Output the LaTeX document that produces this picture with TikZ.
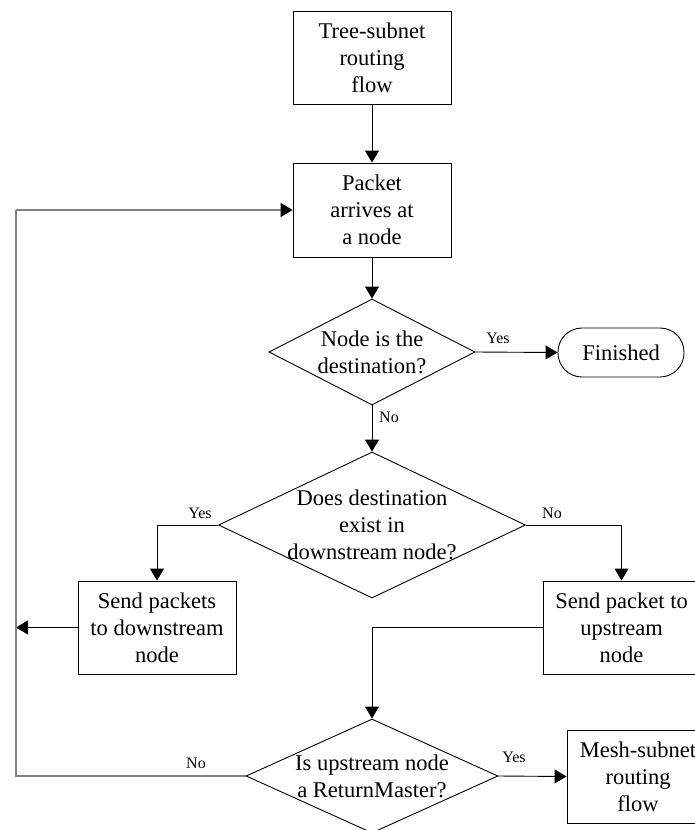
\documentclass[tikz,border=0pt]{standalone}
\usepackage{fontspec}
\setmainfont{Liberation Serif}
\usetikzlibrary{shapes.geometric,arrows.meta}
\begin{document}
\begin{tikzpicture}[x=1pt,y=-1pt,
  every node/.style={font=\fontsize{22.5}{27}\selectfont, align=center, inner sep=0pt},
  box/.style={draw=black, line width=0.9pt, minimum width=158pt, minimum height=93pt},
  dia/.style={draw=black, line width=0.9pt, diamond, aspect=2},
  term/.style={draw=black, line width=0.9pt, rounded corners=24pt, minimum width=126pt, minimum height=49pt},
  lbl/.style={font=\fontsize{16}{19}\selectfont},
  conn/.style={draw=black, line width=0.9pt, -{Triangle[length=12pt,width=14pt]}},
  loopline/.style={draw=black!50, line width=1.6pt},
  looparrow/.style={draw=black!50, line width=1.6pt, -{Triangle[length=12pt,width=14pt,fill=black,color=black]}}
]
\useasboundingbox (0,0) rectangle (694,830);

\node[box] (b1) at (372,58) {Tree-subnet\\routing\\flow};
\node[box, minimum height=94pt] (b2) at (372,210) {Packet\\arrives at\\a node};

\node[dia, minimum width=206pt, minimum height=106pt] (d1) at (372,352) {};
\node (d1t) at (372,352) {Node is the\\destination?};

\node[term] (fin) at (621,352.5) {Finished};

\node[dia, minimum width=307pt, minimum height=146pt] (d2) at (372,525) {};
\node (d2t) at (372,525) {Does destination\\exist in\\downstream node?};

\node[box] (b3) at (157,627.5) {Send packets\\to downstream\\node};
\node[box, minimum width=157pt] (b4) at (621.5,627.5) {Send packet to\\upstream\\node};

\node[dia, minimum width=252pt, minimum height=114pt] (d3) at (372,776) {};
\node (d3t) at (372,776) {Is upstream node\\a ReturnMaster?};

\node[box, minimum width=142pt] (b5) at (638,776.5) {Mesh-subnet\\routing\\flow};

\coordinate (l1) at (16,776);
\coordinate (l2) at (16,210);
\coordinate (l3) at (16,627.5);

% connectors
\draw[conn] (b1.south) -- (b2.north);
\draw[conn] (b2.south) -- (d1.north);
\draw[conn] (d1.east) -- (fin.west);
\draw[conn] (d1.south) -- (d2.north);
\draw[conn] (d2.west) -| (b3.north);
\draw[conn] (d2.east) -| (b4.north);
\draw[conn] (b4.west) -| (d3.north);
\draw[conn] (d3.east) -- (b5.west);
\draw[conn] (b3.west) -- (l3);
\draw[loopline] (d3.west) -- (l1) -- (l2);
\draw[looparrow] (l2) -- (b2.west);

% labels
\node[lbl] (y1) at (498,338) {Yes};
\node[lbl] (n1) at (389,417) {No};
\node[lbl] (y2) at (200,513) {Yes};
\node[lbl] (n2) at (552,513) {No};
\node[lbl] (n3) at (196,763) {No};
\node[lbl] (y3) at (514,757) {Yes};
\end{tikzpicture}
\end{document}
